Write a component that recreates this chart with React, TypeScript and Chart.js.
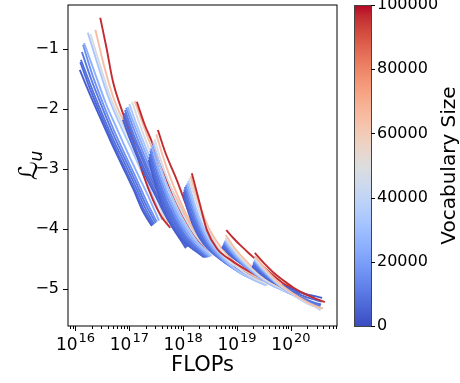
import { useEffect, useRef } from 'react';
import { Chart, registerables } from 'chart.js';

Chart.register(...registerables);

// Vocabulary size of each run inside a model group (same order in every group)
const vocabSizes = [4096, 6144, 8192, 10240, 16384, 24576, 32768, 48128, 64512, 96256];

// Each run: [log10(FLOPs), normalized loss L_u]
const modelA = [
  [[16.08, -1.35], [16.25, -1.72], [16.46, -2.15], [16.66, -2.55], [16.87, -2.95], [17.08, -3.35], [17.26, -3.72], [17.42, -3.95]],
  [[16.09, -1.22], [16.25, -1.62], [16.46, -2.08], [16.66, -2.5], [16.87, -2.9], [17.08, -3.3], [17.28, -3.7], [17.44, -3.93]],
  [[16.1, -1.18], [16.27, -1.58], [16.48, -2.05], [16.68, -2.47], [16.89, -2.86], [17.1, -3.26], [17.3, -3.66], [17.46, -3.92]],
  [[16.12, -1.05], [16.29, -1.5], [16.5, -1.98], [16.7, -2.42], [16.91, -2.82], [17.12, -3.22], [17.32, -3.62], [17.49, -3.9]],
  [[16.14, -0.93], [16.31, -1.42], [16.52, -1.93], [16.72, -2.37], [16.93, -2.78], [17.14, -3.18], [17.34, -3.58], [17.51, -3.88]],
  [[16.16, -0.9], [16.36, -1.4], [16.56, -1.9], [16.77, -2.33], [16.97, -2.73], [17.18, -3.13], [17.39, -3.53], [17.55, -3.86]],
  [[16.23, -0.73], [16.41, -1.25], [16.61, -1.8], [16.82, -2.25], [17.03, -2.65], [17.23, -3.05], [17.44, -3.47], [17.61, -3.85]],
  [[16.28, -0.75], [16.46, -1.28], [16.66, -1.83], [16.87, -2.25], [17.08, -2.63], [17.28, -3.02], [17.49, -3.45], [17.66, -3.86]],
  [[16.37, -0.68], [16.53, -1.28], [16.72, -1.85], [16.92, -2.25], [17.13, -2.62], [17.34, -3.05], [17.54, -3.5], [17.72, -3.9]],
  [[16.46, -0.48], [16.58, -1.0], [16.69, -1.52], [16.88, -2.07], [17.06, -2.5], [17.25, -3.07], [17.44, -3.52], [17.6, -3.8], [17.76, -3.98]],
];

const modelB = [
  [[16.88, -2.18], [17.02, -2.52], [17.18, -2.87], [17.33, -3.17], [17.49, -3.45], [17.64, -3.72], [17.8, -3.97], [17.95, -4.18], [18.05, -4.32]],
  [[16.89, -2.12], [17.03, -2.47], [17.19, -2.82], [17.34, -3.12], [17.5, -3.41], [17.65, -3.68], [17.81, -3.93], [17.96, -4.15], [18.07, -4.3]],
  [[16.91, -2.07], [17.05, -2.42], [17.21, -2.77], [17.36, -3.08], [17.52, -3.37], [17.67, -3.64], [17.83, -3.9], [17.98, -4.13], [18.09, -4.29]],
  [[16.92, -2.02], [17.06, -2.38], [17.22, -2.73], [17.37, -3.04], [17.53, -3.33], [17.69, -3.61], [17.85, -3.87], [18.0, -4.1], [18.11, -4.28]],
  [[16.94, -1.98], [17.08, -2.33], [17.24, -2.69], [17.39, -3.0], [17.55, -3.29], [17.71, -3.58], [17.87, -3.84], [18.02, -4.08], [18.14, -4.27]],
  [[16.97, -1.97], [17.11, -2.3], [17.27, -2.66], [17.42, -2.97], [17.58, -3.26], [17.74, -3.55], [17.9, -3.81], [18.05, -4.05], [18.18, -4.27]],
  [[17.0, -1.92], [17.14, -2.27], [17.3, -2.63], [17.45, -2.94], [17.61, -3.23], [17.77, -3.52], [17.93, -3.78], [18.08, -4.02], [18.22, -4.26]],
  [[17.05, -1.88], [17.18, -2.22], [17.33, -2.58], [17.49, -2.9], [17.65, -3.2], [17.82, -3.5], [17.98, -3.77], [18.15, -4.03], [18.29, -4.28]],
  [[17.1, -1.87], [17.24, -2.22], [17.38, -2.56], [17.55, -2.9], [17.71, -3.2], [17.88, -3.5], [18.04, -3.78], [18.21, -4.05], [18.37, -4.3]],
  [[17.14, -1.88], [17.28, -2.25], [17.42, -2.55], [17.59, -2.98], [17.8, -3.4], [18.0, -3.78], [18.21, -4.1], [18.37, -4.3], [18.47, -4.4]],
];

const modelC = [
  [[17.36, -2.85], [17.45, -3.15], [17.55, -3.45], [17.66, -3.72], [17.8, -3.97], [17.95, -4.15], [18.1, -4.28], [18.25, -4.38], [18.38, -4.47]],
  [[17.37, -2.8], [17.46, -3.1], [17.56, -3.4], [17.68, -3.68], [17.82, -3.94], [17.97, -4.13], [18.12, -4.27], [18.27, -4.38], [18.4, -4.47]],
  [[17.38, -2.75], [17.47, -3.05], [17.58, -3.36], [17.7, -3.64], [17.84, -3.9], [17.99, -4.1], [18.14, -4.25], [18.29, -4.37], [18.42, -4.47]],
  [[17.39, -2.7], [17.49, -3.01], [17.6, -3.32], [17.72, -3.6], [17.86, -3.87], [18.01, -4.08], [18.16, -4.24], [18.31, -4.37], [18.44, -4.47]],
  [[17.4, -2.66], [17.5, -2.97], [17.62, -3.28], [17.75, -3.57], [17.89, -3.84], [18.04, -4.06], [18.19, -4.23], [18.34, -4.36], [18.47, -4.47]],
  [[17.42, -2.6], [17.52, -2.92], [17.64, -3.24], [17.77, -3.53], [17.92, -3.81], [18.07, -4.03], [18.22, -4.21], [18.37, -4.35], [18.5, -4.46]],
  [[17.44, -2.55], [17.55, -2.88], [17.67, -3.2], [17.8, -3.5], [17.95, -3.78], [18.1, -4.01], [18.25, -4.2], [18.4, -4.34], [18.53, -4.45]],
  [[17.47, -2.5], [17.58, -2.84], [17.71, -3.17], [17.85, -3.48], [18.0, -3.76], [18.15, -4.0], [18.3, -4.19], [18.45, -4.33], [18.57, -4.44]],
  [[17.5, -2.42], [17.62, -2.78], [17.75, -3.12], [17.9, -3.45], [18.05, -3.74], [18.2, -3.98], [18.35, -4.17], [18.5, -4.32], [18.62, -4.43]],
  [[17.53, -2.35], [17.67, -2.73], [17.88, -3.18], [18.09, -3.68], [18.25, -3.98], [18.4, -4.2], [18.55, -4.35], [18.68, -4.45]],
];

const modelD = [
  [[18.0, -3.42], [18.09, -3.7], [18.19, -3.95], [18.3, -4.14], [18.45, -4.32], [18.65, -4.47], [18.85, -4.59], [19.05, -4.68], [19.25, -4.76], [19.42, -4.82]],
  [[18.01, -3.38], [18.1, -3.67], [18.2, -3.93], [18.32, -4.14], [18.47, -4.33], [18.67, -4.49], [18.87, -4.61], [19.07, -4.71], [19.27, -4.79], [19.44, -4.85]],
  [[18.02, -3.34], [18.11, -3.64], [18.22, -3.91], [18.34, -4.13], [18.49, -4.33], [18.69, -4.5], [18.89, -4.63], [19.09, -4.73], [19.29, -4.81], [19.46, -4.87]],
  [[18.03, -3.3], [18.13, -3.61], [18.24, -3.89], [18.36, -4.12], [18.51, -4.33], [18.71, -4.51], [18.91, -4.64], [19.11, -4.75], [19.31, -4.83], [19.48, -4.89]],
  [[18.05, -3.27], [18.15, -3.58], [18.26, -3.87], [18.38, -4.11], [18.53, -4.33], [18.73, -4.52], [18.93, -4.66], [19.13, -4.77], [19.33, -4.85], [19.5, -4.91]],
  [[18.07, -3.24], [18.17, -3.55], [18.28, -3.84], [18.4, -4.09], [18.56, -4.32], [18.76, -4.52], [18.96, -4.67], [19.16, -4.78], [19.36, -4.87], [19.52, -4.93]],
  [[18.09, -3.2], [18.19, -3.52], [18.3, -3.81], [18.43, -4.07], [18.59, -4.31], [18.79, -4.52], [18.99, -4.68], [19.19, -4.79], [19.39, -4.88], [19.55, -4.94]],
  [[18.11, -3.16], [18.22, -3.49], [18.34, -3.79], [18.47, -4.05], [18.63, -4.29], [18.83, -4.5], [19.03, -4.66], [19.23, -4.78], [19.43, -4.87], [19.58, -4.93]],
  [[18.14, -3.12], [18.25, -3.46], [18.37, -3.76], [18.5, -4.03], [18.67, -4.27], [18.87, -4.48], [19.07, -4.64], [19.27, -4.76], [19.47, -4.85], [19.62, -4.91]],
  [[18.16, -3.07], [18.3, -3.55], [18.44, -4.02], [18.63, -4.33], [18.92, -4.54], [19.15, -4.67], [19.38, -4.78], [19.6, -4.85], [19.7, -4.88]],
];

const modelE = [
  [[18.72, -4.3], [18.85, -4.42], [19.0, -4.53], [19.2, -4.65], [19.4, -4.76], [19.6, -4.85], [19.8, -4.92], [20.0, -4.99], [20.15, -5.04]],
  [[18.73, -4.28], [18.86, -4.41], [19.01, -4.53], [19.21, -4.66], [19.41, -4.78], [19.61, -4.88], [19.81, -4.96], [20.01, -5.03], [20.17, -5.08]],
  [[18.74, -4.26], [18.87, -4.4], [19.02, -4.53], [19.22, -4.67], [19.42, -4.8], [19.62, -4.9], [19.82, -4.98], [20.02, -5.06], [20.18, -5.11]],
  [[18.75, -4.24], [18.88, -4.39], [19.03, -4.53], [19.23, -4.68], [19.43, -4.81], [19.63, -4.92], [19.83, -5.0], [20.03, -5.08], [20.2, -5.13]],
  [[18.76, -4.22], [18.89, -4.38], [19.04, -4.53], [19.24, -4.69], [19.44, -4.82], [19.64, -4.93], [19.84, -5.01], [20.04, -5.09], [20.22, -5.15]],
  [[18.77, -4.2], [18.9, -4.37], [19.05, -4.52], [19.25, -4.69], [19.45, -4.83], [19.65, -4.94], [19.85, -5.02], [20.05, -5.1], [20.24, -5.16]],
  [[18.78, -4.18], [18.92, -4.35], [19.07, -4.51], [19.27, -4.68], [19.47, -4.83], [19.67, -4.94], [19.87, -5.03], [20.07, -5.11], [20.26, -5.17]],
  [[18.78, -4.15], [18.93, -4.33], [19.08, -4.5], [19.28, -4.67], [19.48, -4.82], [19.68, -4.93], [19.88, -5.02], [20.08, -5.1], [20.28, -5.16]],
  [[18.79, -4.1], [18.94, -4.3], [19.1, -4.47], [19.3, -4.65], [19.5, -4.8], [19.7, -4.92], [19.9, -5.01], [20.1, -5.09], [20.3, -5.15]],
  [[18.8, -4.02], [18.93, -4.15], [19.06, -4.27], [19.3, -4.47], [19.55, -4.68], [19.85, -4.9], [20.05, -5.0], [20.25, -5.08], [20.37, -5.12]],
];

const modelF = [
  [[19.28, -4.62], [19.45, -4.76], [19.65, -4.88], [19.87, -4.95], [20.1, -5.03], [20.3, -5.09], [20.45, -5.12], [20.58, -5.15]],
  [[19.29, -4.6], [19.46, -4.75], [19.66, -4.88], [19.88, -4.98], [20.1, -5.07], [20.3, -5.14], [20.45, -5.18], [20.57, -5.21]],
  [[19.3, -4.58], [19.47, -4.74], [19.67, -4.88], [19.89, -5.0], [20.1, -5.1], [20.3, -5.18], [20.45, -5.23], [20.56, -5.26]],
  [[19.3, -4.56], [19.48, -4.73], [19.68, -4.88], [19.9, -5.01], [20.12, -5.12], [20.32, -5.2], [20.45, -5.25], [20.55, -5.29]],
  [[19.31, -4.54], [19.49, -4.72], [19.69, -4.88], [19.91, -5.02], [20.13, -5.14], [20.33, -5.23], [20.46, -5.28], [20.55, -5.32]],
  [[19.32, -4.52], [19.5, -4.71], [19.7, -4.88], [19.92, -5.03], [20.14, -5.15], [20.34, -5.25], [20.47, -5.3], [20.55, -5.34]],
  [[19.32, -4.5], [19.51, -4.7], [19.71, -4.88], [19.93, -5.03], [20.15, -5.16], [20.35, -5.26], [20.48, -5.31], [20.55, -5.35]],
  [[19.32, -4.48], [19.52, -4.69], [19.72, -4.87], [19.94, -5.03], [20.16, -5.16], [20.36, -5.26], [20.49, -5.31], [20.57, -5.34]],
  [[19.33, -4.45], [19.53, -4.67], [19.73, -4.86], [19.95, -5.02], [20.17, -5.15], [20.37, -5.25], [20.5, -5.3], [20.6, -5.32]],
  [[19.33, -4.4], [19.5, -4.57], [19.68, -4.73], [19.85, -4.85], [20.05, -4.98], [20.3, -5.1], [20.48, -5.17], [20.63, -5.22]],
];

const modelGroups = [modelA, modelB, modelC, modelD, modelE, modelF];

const xDecades = [16, 17, 18, 19, 20];
const yTicks = [-1, -2, -3, -4, -5];
const colorbarTicks = [0, 20000, 40000, 60000, 80000, 100000];
const vocabMax = 100000;

// matplotlib "coolwarm" colormap stops
const COOLWARM = [
  [59, 76, 192], [68, 90, 204], [77, 104, 215], [87, 117, 225], [98, 130, 234], [108, 142, 241],
  [119, 154, 247], [130, 165, 251], [141, 176, 254], [152, 185, 255], [163, 194, 255], [174, 201, 253],
  [184, 208, 249], [194, 213, 244], [204, 217, 238], [213, 219, 230], [221, 221, 221], [229, 216, 209],
  [236, 211, 197], [241, 204, 185], [245, 196, 173], [247, 187, 160], [247, 177, 148], [247, 166, 135],
  [244, 154, 123], [241, 141, 111], [236, 127, 99], [229, 112, 88], [222, 96, 77], [213, 80, 66],
  [203, 62, 56], [192, 40, 47], [180, 4, 38],
];

function coolwarm(t: number): string {
  const tt = Math.max(0, Math.min(1, t));
  const f = tt * (COOLWARM.length - 1);
  const i = Math.min(COOLWARM.length - 2, Math.floor(f));
  const r = f - i;
  const a = COOLWARM[i];
  const b = COOLWARM[i + 1];
  const c = [0, 1, 2].map((k) => Math.round(a[k] + (b[k] - a[k]) * r));
  return `rgb(${c[0]},${c[1]},${c[2]})`;
}

const FONT = '"DejaVu Sans", sans-serif';

const decorPlugin = {
  id: 'decor',
  afterDraw(chart: any) {
    const { ctx, chartArea: a, scales } = chart;
    ctx.save();
    const line = (x1: number, y1: number, x2: number, y2: number) => {
      ctx.beginPath();
      ctx.moveTo(x1, y1);
      ctx.lineTo(x2, y2);
      ctx.stroke();
    };
    ctx.strokeStyle = '#000';
    ctx.lineWidth = 1;
    // frame
    ctx.strokeRect(a.left, a.top, a.right - a.left, a.bottom - a.top);
    // x ticks (major + minor)
    const xs = scales.x;
    for (let e = 15; e <= 21; e++) {
      for (let m = 1; m <= 9; m++) {
        const v = m * Math.pow(10, e);
        if (v < xs.min || v > xs.max) continue;
        const px = Math.round(xs.getPixelForValue(v)) + 0.5;
        line(px, a.bottom, px, a.bottom + (m === 1 ? 5 : 3));
      }
    }
    // x tick labels 10^n with real superscript
    ctx.fillStyle = '#000';
    ctx.textBaseline = 'alphabetic';
    ctx.textAlign = 'left';
    xDecades.forEach((e) => {
      const px = xs.getPixelForValue(Math.pow(10, e));
      ctx.font = `17px ${FONT}`;
      const wb = ctx.measureText('10').width;
      ctx.font = `13px ${FONT}`;
      const we = ctx.measureText(String(e)).width;
      const x0 = px - (wb + we + 1) / 2;
      ctx.font = `17px ${FONT}`;
      ctx.fillText('10', x0, 350);
      ctx.font = `13px ${FONT}`;
      ctx.fillText(String(e), x0 + wb + 1, 342);
    });
    // y ticks
    yTicks.forEach((v) => {
      const py = Math.round(scales.y.getPixelForValue(v)) + 0.5;
      line(a.left - 5, py, a.left, py);
    });
    // colorbar
    const cb = scales.cbar;
    const cx0 = a.right + 17;
    const w = 17;
    const grad = ctx.createLinearGradient(0, a.bottom, 0, a.top);
    COOLWARM.forEach((c, i) => grad.addColorStop(i / (COOLWARM.length - 1), `rgb(${c[0]},${c[1]},${c[2]})`));
    ctx.fillStyle = grad;
    ctx.fillRect(cx0, a.top, w, a.bottom - a.top);
    ctx.strokeStyle = '#444';
    ctx.strokeRect(cx0 + 0.5, a.top + 0.5, w, a.bottom - a.top);
    ctx.strokeStyle = '#000';
    colorbarTicks.forEach((v) => {
      const py = Math.round(cb.getPixelForValue(v)) + 0.5;
      line(cx0 + w, py, cx0 + w + 4, py);
    });
    // colorbar label
    ctx.fillStyle = '#000';
    ctx.save();
    ctx.translate(450, (a.top + a.bottom) / 2);
    ctx.rotate(-Math.PI / 2);
    ctx.font = `20px ${FONT}`;
    ctx.textAlign = 'center';
    ctx.textBaseline = 'middle';
    ctx.fillText('Vocabulary Size', 0, 0);
    ctx.restore();
    // y label: script L with subscript u
    ctx.save();
    ctx.translate(37, (a.top + a.bottom) / 2);
    ctx.rotate(-Math.PI / 2);
    ctx.textBaseline = 'alphabetic';
    ctx.textAlign = 'left';
    ctx.font = `26px ${FONT}`;
    const wL = ctx.measureText('ℒ').width;
    ctx.font = `italic 17px ${FONT}`;
    const wU = ctx.measureText('u').width;
    const start = -(wL + wU) / 2;
    ctx.font = `26px ${FONT}`;
    ctx.fillText('ℒ', start, 0);
    ctx.font = `italic 17px ${FONT}`;
    ctx.fillText('u', start + wL, 5);
    ctx.restore();
    ctx.restore();
  },
};

export default function App() {
  const ref = useRef<HTMLCanvasElement>(null);
  useEffect(() => {
    if (!ref.current) return;
    const datasets: any[] = [];
    modelGroups.forEach((group, gi) => {
      group.forEach((run, vi) => {
        const idx = datasets.length;
        datasets.push({
          label: `model ${gi} / vocab ${vocabSizes[vi]}`,
          data: run.map(([lx, y]) => ({ x: Math.pow(10, lx), y })),
          borderColor: coolwarm(vocabSizes[vi] / vocabMax),
          borderWidth: 1.9,
          pointRadius: 0,
          fill: false,
          cubicInterpolationMode: 'monotone',
          order: -idx,
        });
      });
    });
    const tickFont = { family: FONT, size: 16 };
    const chart = new Chart(ref.current, {
      type: 'line',
      data: { datasets },
      plugins: [decorPlugin],
      options: {
        responsive: false,
        animation: false,
        events: [],
        layout: { padding: { top: 5, left: 0, right: 0, bottom: 0 } },
        plugins: { legend: { display: false }, tooltip: { enabled: false } },
        scales: {
          x: {
            type: 'logarithmic',
            min: Math.pow(10, 15.861),
            max: Math.pow(10, 20.856),
            grid: { display: false, drawTicks: false },
            border: { display: false },
            afterFit: (s: any) => {
              s.height = 57;
              s.paddingLeft = 0;
              s.paddingRight = 0;
            },
            ticks: {
              autoSkip: false,
              maxRotation: 0,
              padding: 7,
              color: '#000',
              font: tickFont,
              callback: () => '',
            },
            title: {
              display: true,
              text: 'FLOPs',
              color: '#000',
              font: { family: FONT, size: 21 },
              padding: { top: 0, bottom: 5 },
            },
          },
          y: {
            type: 'linear',
            min: -5.617,
            max: -0.267,
            grid: { display: false, drawTicks: false },
            border: { display: false },
            afterFit: (s: any) => {
              s.width = 68;
              s.paddingTop = 0;
              s.paddingBottom = 0;
            },
            ticks: {
              stepSize: 1,
              includeBounds: false,
              padding: 9,
              color: '#000',
              font: tickFont,
              callback: (v: any) => (Number(v) < 0 ? '\u2212' + Math.abs(Number(v)) : String(v)),
            },
          },
          cbar: {
            type: 'linear',
            axis: 'y',
            position: 'right',
            min: 0,
            max: vocabMax,
            grid: { display: false, drawTicks: false },
            border: { display: false },
            afterFit: (s: any) => {
              s.width = 123;
              s.paddingTop = 0;
              s.paddingBottom = 0;
            },
            ticks: {
              stepSize: 20000,
              padding: 40,
              color: '#000',
              font: tickFont,
              callback: (v: any) => String(v),
            },
          },
        },
      } as any,
    });
    return () => chart.destroy();
  }, []);
  return (
    <div style={{ position: 'fixed', left: 0, top: 0, width: 460, height: 383, background: '#fff' }}>
      <canvas ref={ref} width={460} height={383} style={{ display: 'block' }} />
    </div>
  );
}
